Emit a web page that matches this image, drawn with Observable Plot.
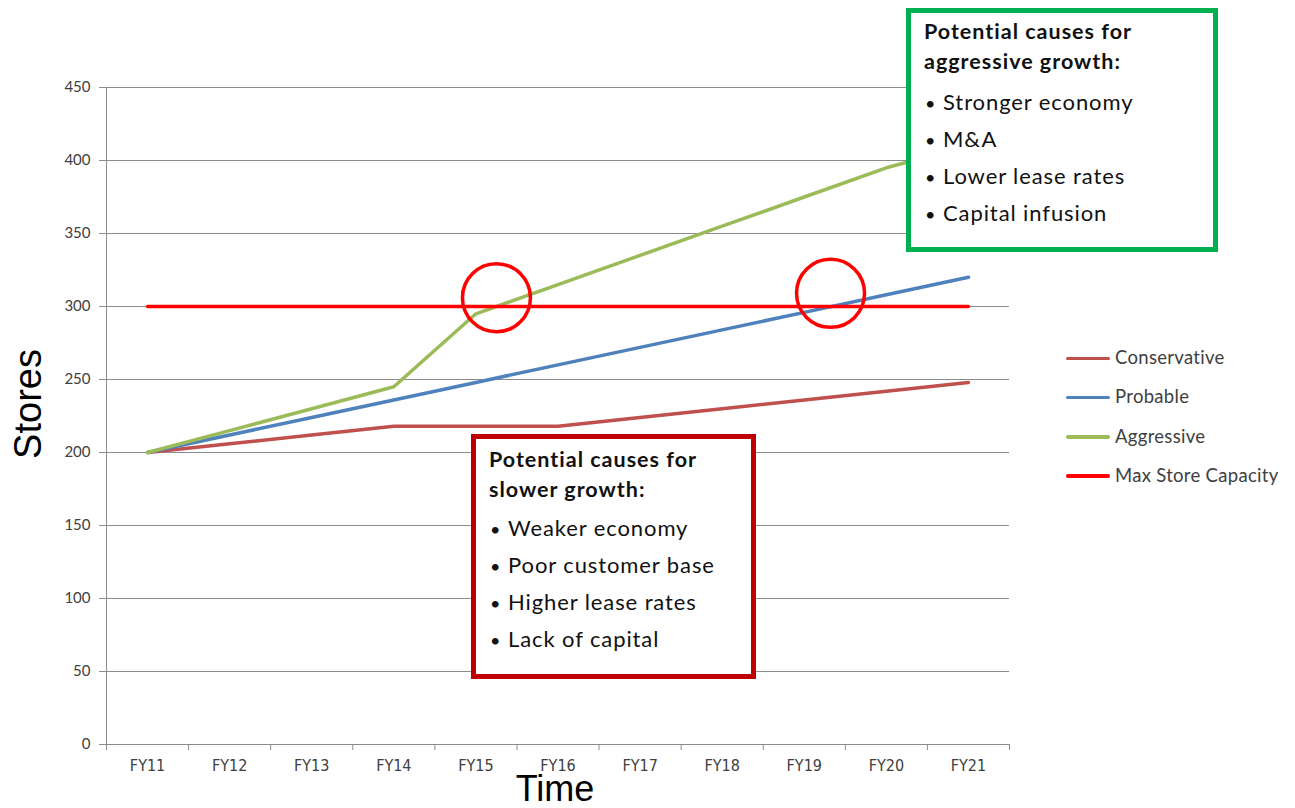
<!DOCTYPE html>
<html>
<head>
<meta charset="utf-8">
<script src="https://cdn.jsdelivr.net/npm/d3@7"></script>
<script src="https://cdn.jsdelivr.net/npm/@observablehq/plot@0.6"></script>
<style>
  body { margin: 0; background: #fff; }
  #wrap { position: relative; width: 1295px; height: 808px; overflow: hidden; font-family: Lato, "Open Sans", sans-serif; }
  #wrap svg { position: absolute; left: 0; top: 0; }
  .box { position: absolute; background: #fff; box-sizing: border-box; color: #111; }
  .head { font-weight: 700; font-size: 21.5px; letter-spacing: 1px; line-height: 30px; height: 30px; white-space: nowrap; }
  .item { font-size: 22px; letter-spacing: 0.9px; line-height: 37px; height: 37px; white-space: nowrap; }
  .item .b { display: inline-block; width: 18px; font-size: 18px; letter-spacing: 0; padding-left: 1px; }
  #legend { position: absolute; left: 1066px; top: 344px; font-size: 18.5px; letter-spacing: 0.3px; color: #404040; }
  #legend .row { position: relative; height: 39.3px; line-height: 26px; white-space: nowrap; }
  #legend .sw { display: inline-block; width: 44px; height: 3.5px; border-radius: 2px; vertical-align: middle; margin-right: 5px; position: relative; top: -1px; }
</style>
</head>
<body>
<div id="wrap"></div>
<script>
// ---- data ----
const years = ["FY11","FY12","FY13","FY14","FY15","FY16","FY17","FY18","FY19","FY20","FY21"];
const conservative = [200, 206, 212, 218, 218, 218, 224, 230, 236, 242, 248];
const probable     = [200, 212, 224, 236, 248, 260, 272, 284, 296, 308, 320];
const aggressive   = [200, 215, 230, 245, 295, 315, 335, 355, 375, 395, 410];
const maxCapacity  = [300, 300, 300, 300, 300, 300, 300, 300, 300, 300, 300];
const seriesNames  = ["Conservative", "Probable", "Aggressive", "Max Store Capacity"];
const seriesColors = ["#C0504D", "#4F81BD", "#9BBB59", "#FF0000"];
const yTicks = [0, 50, 100, 150, 200, 250, 300, 350, 400, 450];
// crossing highlights (position in year index, value)
const circleX = [4.25, 8.32];
const circleY = [306, 309];
const slowerTitle = ["Potential causes for", "slower growth:"];
const slowerItems = ["Weaker economy", "Poor customer base", "Higher lease rates", "Lack of capital"];
const aggrTitle = ["Potential causes for", "aggressive growth:"];
const aggrItems = ["Stronger economy", "M&A", "Lower lease rates", "Capital infusion"];

// ---- build ----
const seriesValues = [conservative, probable, aggressive, maxCapacity];
const rows = [];
seriesNames.forEach((s, k) => seriesValues[k].forEach((v, i) => rows.push({i, v, s})));
const circles = circleX.map((x, j) => ({x, y: circleY[j]}));
const bandEdges = d3.range(12).map(d => d - 0.5);
const centers = d3.range(years.length);

const chart = Plot.plot({
  width: 1295,
  height: 808,
  marginLeft: 106,
  marginRight: 286,
  marginTop: 87,
  marginBottom: 64,
  x: {type: "linear", domain: [-0.5, 10.5]},
  y: {domain: [0, 450]},
  color: {domain: seriesNames, range: seriesColors},
  style: {fontFamily: "Lato, sans-serif", background: "white", overflow: "visible"},
  marks: [
    Plot.gridY(yTicks, {stroke: "#8c8c8c", strokeOpacity: 1}),
    Plot.axisY(yTicks, {tickSize: 7, tickPadding: 9, fontSize: 15, fill: "#404040", stroke: "#8c8c8c", label: null}),
    Plot.axisX(bandEdges, {tickSize: 6, tickFormat: () => "", stroke: "#8c8c8c", label: null}),
    Plot.axisX(centers, {tickSize: 0, tickPadding: 15, tickFormat: i => years[i], fontSize: 16,
      fontFamily: "'Liberation Sans Narrow', 'DejaVu Sans Condensed', sans-serif", fill: "#404040", label: null}),
    Plot.ruleX([-0.5], {stroke: "#8c8c8c"}),
    Plot.ruleY([0], {stroke: "#8c8c8c"}),
    Plot.line(rows, {x: "i", y: "v", z: "s", stroke: "s", strokeWidth: 3.5, strokeLinejoin: "round", strokeLinecap: "round"}),
    Plot.dot(circles, {x: "x", y: "y", r: 34, stroke: "#FF0000", strokeWidth: 3.5, fill: "none"}),
    Plot.text(["Stores"], {frameAnchor: "left", textAnchor: "middle", lineAnchor: "middle", dx: -78, dy: -12, rotate: -90, fontSize: 38,
      fontFamily: "'Liberation Sans', Arial, sans-serif", fill: "#000"}),
    Plot.text(["Time"], {frameAnchor: "bottom", textAnchor: "middle", lineAnchor: "middle", dy: 44.5, dx: -3, fontSize: 36,
      fontFamily: "'Liberation Sans', Arial, sans-serif", fill: "#000"})
  ]
});

const wrap = document.getElementById("wrap");
wrap.appendChild(chart);

function makeBox(left, top, width, height, color, titles, items, padTop, gapH) {
  const box = document.createElement("div");
  box.className = "box";
  Object.assign(box.style, {left: left + "px", top: top + "px", width: width + "px", height: height + "px",
    border: "5px solid " + color, padding: padTop + "px 0 0 13px"});
  titles.forEach(t => { const d = document.createElement("div"); d.className = "head"; d.textContent = t; box.appendChild(d); });
  const gap = document.createElement("div"); gap.style.height = gapH + "px"; box.appendChild(gap);
  items.forEach(t => {
    const d = document.createElement("div"); d.className = "item";
    const b = document.createElement("span"); b.className = "b"; b.textContent = "•";
    d.appendChild(b); d.appendChild(document.createTextNode(t)); box.appendChild(d);
  });
  wrap.appendChild(box);
}
makeBox(471, 434, 285, 245, "#C00000", slowerTitle, slowerItems, 5, 5);
makeBox(906, 8, 312, 244, "#00B050", aggrTitle, aggrItems, 3, 7);

const legend = document.createElement("div");
legend.id = "legend";
seriesNames.forEach((s, k) => {
  const r = document.createElement("div"); r.className = "row";
  const sw = document.createElement("span"); sw.className = "sw"; sw.style.background = seriesColors[k];
  r.appendChild(sw); r.appendChild(document.createTextNode(s)); legend.appendChild(r);
});
wrap.appendChild(legend);
</script>
</body>
</html>
